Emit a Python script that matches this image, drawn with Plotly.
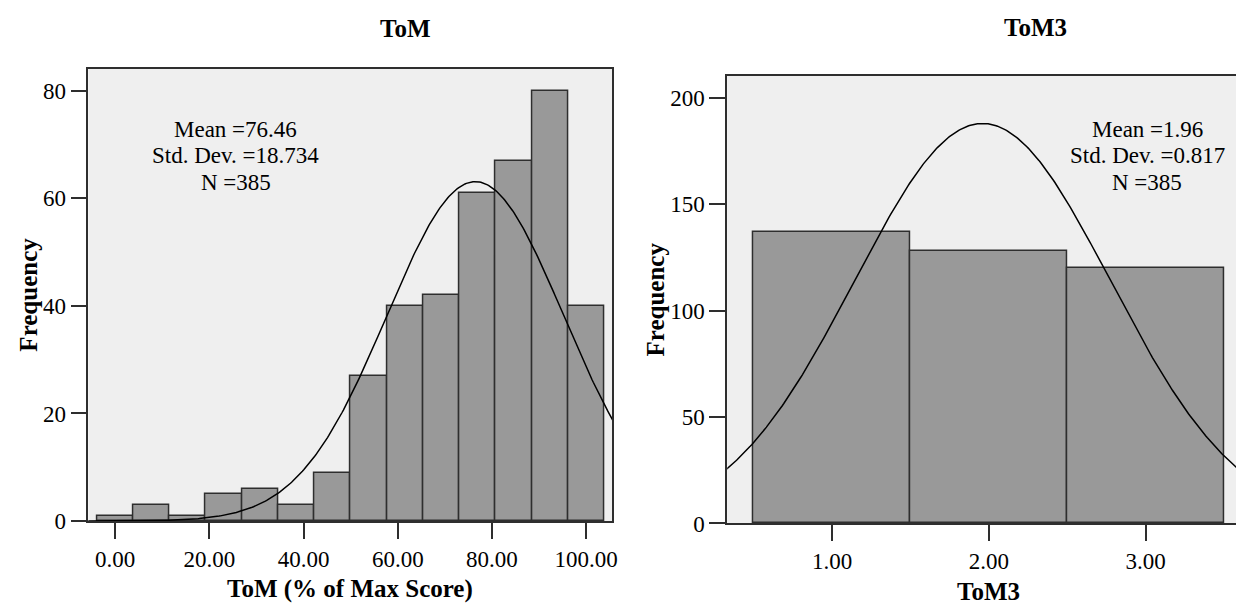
import numpy as np
import plotly.graph_objects as go

# ---------------- data ----------------
tom_bin_centers = [0.00, 7.69, 15.38, 23.08, 30.77, 38.46, 46.15, 53.85,
                   61.54, 69.23, 76.92, 84.62, 92.31, 100.00]
tom_counts = [1, 3, 1, 5, 6, 3, 9, 27, 40, 42, 61, 67, 80, 40]
tom_bin_width = 100 / 13
tom_mean, tom_sd, tom_n = 76.46, 18.734, 385
tom_xticks = [0, 20, 40, 60, 80, 100]
tom_yticks = [0, 20, 40, 60, 80]

tom3_bin_centers = [1, 2, 3]
tom3_counts = [137, 128, 120]
tom3_bin_width = 1.0
tom3_mean, tom3_sd, tom3_n = 1.96, 0.817, 385
tom3_xticks = [1, 2, 3]
tom3_yticks = [0, 50, 100, 150, 200]

# ---------------- style ----------------
W, H = 1244, 609
FONT = "Liberation Serif, Times New Roman, serif"
BAR_FILL = "#999999"
EDGE = "#2e2e2e"
BG = "#efefef"


def px_x(p):
    return p / W


def px_y(p):
    return (H - p) / H


def normal_curve(mean, sd, n, bw, lo, hi):
    xs = np.linspace(lo, hi, 400)
    ys = n * bw / (sd * np.sqrt(2 * np.pi)) * np.exp(-0.5 * ((xs - mean) / sd) ** 2)
    return xs, ys


fig = go.Figure()

# Left panel
fig.add_trace(go.Bar(x=tom_bin_centers, y=tom_counts, width=tom_bin_width,
                     marker=dict(color=BAR_FILL, line=dict(color=EDGE, width=1.5)),
                     xaxis="x", yaxis="y", showlegend=False, hoverinfo="skip"))
cx, cy = normal_curve(tom_mean, tom_sd, tom_n, tom_bin_width, -6, 106)
fig.add_trace(go.Scatter(x=cx, y=cy, mode="lines", line=dict(color="black", width=1.5),
                         xaxis="x", yaxis="y", showlegend=False, hoverinfo="skip"))

# Right panel
fig.add_trace(go.Bar(x=tom3_bin_centers, y=tom3_counts, width=tom3_bin_width,
                     marker=dict(color=BAR_FILL, line=dict(color=EDGE, width=1.5)),
                     xaxis="x2", yaxis="y2", showlegend=False, hoverinfo="skip"))
cx2, cy2 = normal_curve(tom3_mean, tom3_sd, tom3_n, tom3_bin_width, 0.3, 3.7)
fig.add_trace(go.Scatter(x=cx2, y=cy2, mode="lines", line=dict(color="black", width=1.5),
                         xaxis="x2", yaxis="y2", showlegend=False, hoverinfo="skip"))

tickfont = dict(family=FONT, size=23, color="black")
axis_common = dict(showgrid=False, zeroline=False, ticks="outside", ticklen=16,
                   tickwidth=1.5, tickcolor=EDGE, linecolor=EDGE, linewidth=1.6,
                   showline=True, tickfont=tickfont)

fig.update_layout(
    width=W, height=H,
    margin=dict(l=0, r=0, t=0, b=0),
    paper_bgcolor="white", plot_bgcolor=BG,
    bargap=0,
    xaxis=dict(domain=[px_x(80.7), px_x(607)], range=[-5.70, 105.50],
               tickvals=tom_xticks, tickformat=".2f", mirror=True,
               anchor="y", **axis_common),
    yaxis=dict(domain=[px_y(524.3), px_y(62.3)], range=[0, 84.0],
               tickvals=tom_yticks, mirror=True, anchor="x", **axis_common),
    xaxis2=dict(domain=[px_x(722.7), 1.0], range=[0.331, 3.641],
                tickvals=tom3_xticks, tickformat=".2f", mirror=True,
                anchor="y2", **axis_common),
    yaxis2=dict(domain=[px_y(526.7), px_y(69.5)], range=[0, 210.3],
                tickvals=tom3_yticks, mirror=False, anchor="x2", **axis_common),
)

anns = []
bold = dict(family=FONT, size=25, color="black")
# titles
anns.append(dict(text="<b>ToM</b>", x=px_x(399), y=px_y(21)))
anns.append(dict(text="<b>ToM3</b>", x=px_x(1032), y=px_y(20)))
# x-axis titles
anns.append(dict(text="<b>ToM (% of Max Score)</b>", x=px_x(344), y=px_y(594)))
anns.append(dict(text="<b>ToM3</b>", x=px_x(985), y=px_y(596)))
for a in anns:
    a.update(xref="paper", yref="paper", showarrow=False, font=bold,
             xanchor="center", yanchor="middle")
# y-axis titles
for xc, yc in [(21, 293), (651, 298)]:
    anns.append(dict(text="<b>Frequency</b>", x=px_x(xc), y=px_y(yc), xref="paper",
                     yref="paper", showarrow=False, font=bold, textangle=-90,
                     xanchor="center", yanchor="middle"))

# stats boxes
statfont = dict(family=FONT, size=23, color="black")
left_lines = [f"Mean ={tom_mean:.2f}", f"Std. Dev. ={tom_sd:.3f}", f"N ={tom_n}"]
right_lines = [f"Mean ={tom3_mean:.2f}", f"Std. Dev. ={tom3_sd:.3f}", f"N ={tom3_n}"]
for lines, xc in [(left_lines, 229), (right_lines, 1145)]:
    for txt, yc in zip(lines, [124, 151, 178]):
        anns.append(dict(text=txt, x=px_x(xc), y=px_y(yc), xref="paper", yref="paper",
                         showarrow=False, font=statfont, xanchor="center",
                         yanchor="middle"))

fig.update_layout(annotations=anns)
fig.write_html("out.html")
